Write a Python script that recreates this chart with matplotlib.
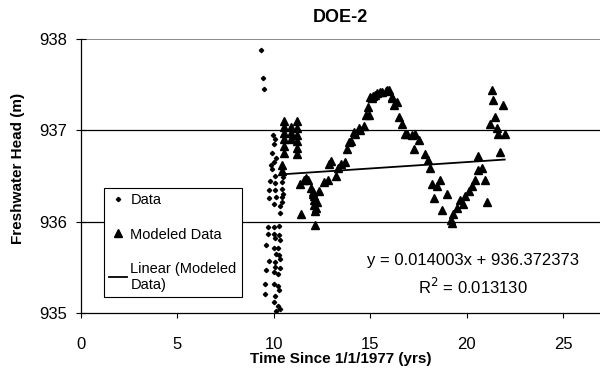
import matplotlib
matplotlib.use("Agg")
import matplotlib.pyplot as plt
import numpy as np

plt.rcParams["font.family"] = ["Liberation Sans", "DejaVu Sans"]

# Observed heads (small dots)
data_x = [9.33, 9.43, 9.48,
          10.03, 10.46, 9.78, 10.03, 10.41, 9.77, 10.03, 10.43, 10.46,
          9.77, 10.12, 10.43, 10.0, 10.29, 10.29, 10.43,
          9.95, 10.0, 9.9, 10.0, 9.92, 10.05, 10.1, 9.85,
          9.69, 10.0, 10.25, 9.69, 10.0, 10.25, 10.03, 10.29,
          9.6, 10.0, 10.2, 10.12, 10.25, 9.77, 10.03, 10.29,
          10.03, 10.33, 9.6, 10.0, 10.2, 9.52, 10.0, 10.2, 10.25,
          9.52, 10.03, 10.0, 10.2, 10.12, 10.29]
data_y = [937.88, 937.57, 937.45,
          936.50, 936.49, 936.44, 936.42, 936.43, 936.35, 936.35, 936.36, 936.30,
          936.26, 936.27, 936.27, 936.19, 936.17, 936.10, 936.21,
          936.95, 936.85, 936.75, 936.65, 936.58, 936.90, 936.70, 936.62,
          935.94, 935.94, 935.95, 935.87, 935.87, 935.85, 935.82, 935.80,
          935.74, 935.71, 935.71, 935.65, 935.63, 935.57, 935.56, 935.59,
          935.50, 935.49, 935.47, 935.45, 935.43, 935.32, 935.32, 935.30, 935.25,
          935.21, 935.19, 935.12, 935.08, 935.02, 935.04]

# Modeled heads (triangles)
mod_x = [10.4, 10.4, 10.5, 10.5, 10.5, 10.5, 10.5, 10.5,
         10.9, 10.9, 10.9, 11.2, 11.2, 11.2, 11.2, 11.2, 11.2,
         11.35, 11.4,
         11.58, 11.65, 11.75, 11.9, 12.0, 12.05, 12.1, 12.1, 12.1, 12.15, 12.2,
         12.15, 12.25, 12.35, 12.6, 12.78,
         12.87, 12.95, 13.2, 13.3, 13.45, 13.66, 13.8, 13.9, 14.0, 14.16, 14.2,
         14.4, 14.45, 14.68, 14.75, 14.85, 14.93, 15.0, 15.1, 15.15, 15.26,
         15.36, 15.5, 15.6, 15.8, 15.88, 15.97, 16.1, 16.13, 16.2, 16.4,
         16.48, 16.65, 16.8, 16.9, 17.16, 17.25, 17.3, 17.5, 17.85, 18.0,
         18.1, 18.2, 18.3, 18.45, 18.6, 18.7, 18.97, 19.2, 19.25, 19.3, 19.5,
         19.65, 19.8, 19.9, 20.1, 20.26, 20.4, 20.6, 20.6, 20.77, 20.94, 21.03,
         21.2, 21.3, 21.37, 21.45, 21.55, 21.63, 21.7, 21.85, 21.96]
mod_y = [936.55, 936.62, 936.75, 936.83, 936.90, 936.97, 937.04, 937.10,
         936.90, 936.97, 937.04, 936.74, 936.81, 936.88, 936.95, 937.02, 937.10,
         936.41, 936.08,
         936.46, 936.48, 936.46, 936.37, 936.33, 936.30, 936.28, 936.24, 936.18,
         936.12, 936.15,
         935.96, 936.22, 936.34, 936.43, 936.46,
         936.63, 936.66, 936.50, 936.59, 936.63, 936.65, 936.80, 936.87, 936.88,
         936.98, 936.96,
         937.02, 937.00, 937.05, 937.17, 937.26, 937.17, 937.37, 937.35, 937.38,
         937.39,
         937.41, 937.42, 937.42, 937.43, 937.44, 937.44, 937.35, 937.37, 937.28,
         937.31,
         937.15, 937.07, 936.96, 936.96, 936.95, 936.80, 936.96, 936.89, 936.74,
         936.67,
         936.59, 936.41, 936.26, 936.39, 936.46, 936.13, 936.30, 936.02, 935.98,
         936.08, 936.15,
         936.24, 936.19, 936.28, 936.34, 936.39, 936.46, 936.57, 936.72, 936.59,
         936.46, 936.21,
         937.07, 937.44, 937.33, 937.15, 937.02, 936.96, 936.76, 937.28, 936.96]

slope = 0.014003
intercept = 936.372373
r_squared = 0.013130

fig = plt.figure(figsize=(6, 3.77), dpi=100)
ax = fig.add_axes([0.135, 0.1698, 0.865, 0.7268])

# Horizontal gridlines
ax.axhline(937, color="black", linewidth=0.9, zorder=1)
ax.axhline(936, color="black", linewidth=0.9, zorder=1)
ax.axhline(938, color="#777777", linewidth=1.2, zorder=1)

ax.plot(data_x, data_y, linestyle="none", marker="D", markersize=2.2,
        color="black", label="Data", zorder=3)
ax.plot(mod_x, mod_y, linestyle="none", marker="^", markersize=5.3,
        color="black", label="Modeled Data", zorder=3)

# Linear trendline over the modeled data range
xs = np.array([min(mod_x), max(mod_x)])
ax.plot(xs, slope * xs + intercept, color="black", linewidth=1.3,
        label="Linear (Modeled\nData)", zorder=4)

ax.set_xlim(0, 26.9)
ax.set_ylim(935, 938)
ax.set_xticks([0, 5, 10, 15, 20, 25])
ax.set_yticks([935, 936, 937, 938])
ax.tick_params(axis="both", labelsize=12, width=0.8)
ax.tick_params(axis="x", direction="out", length=3.6, pad=14)
ax.tick_params(axis="y", direction="inout", length=7, pad=6.5)

for side in ["top", "right"]:
    ax.spines[side].set_visible(False)
ax.spines["left"].set_linewidth(0.9)
ax.spines["bottom"].set_linewidth(0.9)

ax.set_title("DOE-2", fontsize=13, fontweight="bold", pad=12)
ax.set_xlabel("Time Since 1/1/1977 (yrs)", fontsize=11, fontweight="bold",
              labelpad=0)
ax.set_ylabel("Freshwater Head (m)", fontsize=11, fontweight="bold")
ax.yaxis.set_label_coords(-0.108, 0.526)

ax.text(20.3, 935.57, f"y = {slope:.6f}x + {intercept:.6f}", fontsize=12,
        ha="center", va="center")
ax.text(20.3, 935.29, f"R$^2$ = {r_squared:.6f}", fontsize=12,
        ha="center", va="center")

leg = ax.legend(loc="upper left", bbox_to_anchor=(0.0444, 0.456),
                fontsize=10.5, frameon=True, fancybox=False,
                edgecolor="black", framealpha=1, handlelength=1.2,
                handletextpad=0.25, labelspacing=1.4, borderpad=0.35,
                borderaxespad=0)
leg.get_frame().set_linewidth(0.8)
leg.set_zorder(5)

fig.savefig("out.png", dpi=100)
